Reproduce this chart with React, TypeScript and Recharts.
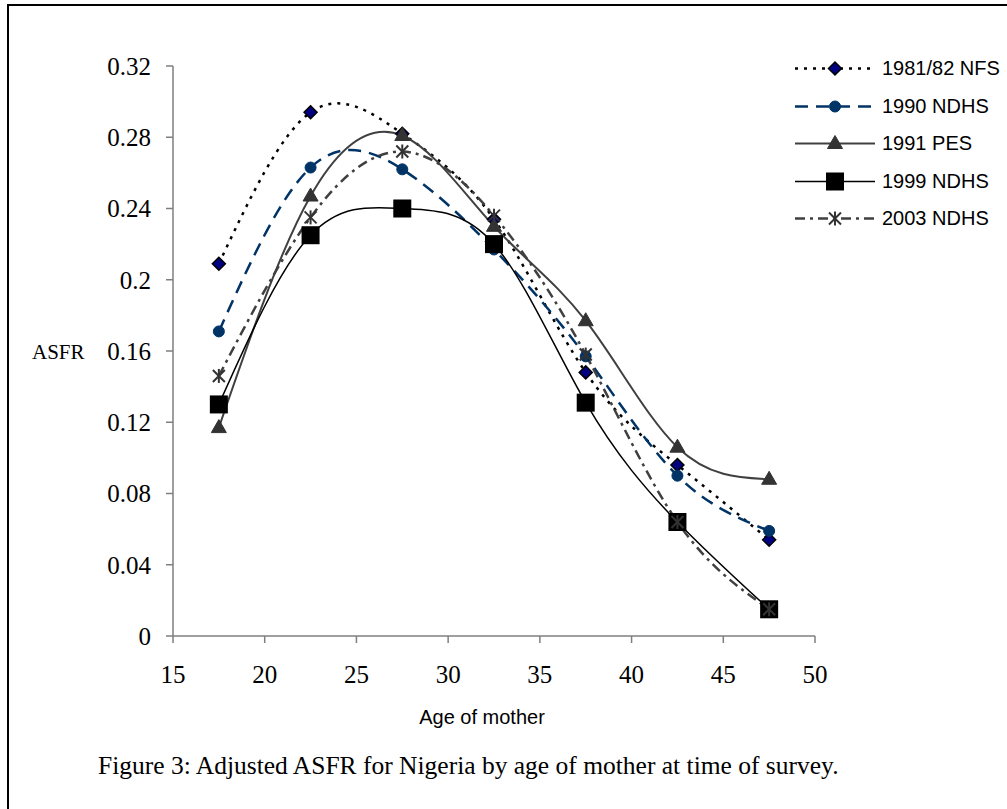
import { Legend, Line, LineChart, XAxis, YAxis } from "recharts"

const ages = [17.5, 22.5, 27.5, 32.5, 37.5, 42.5, 47.5]
const nfs1981 = [0.209, 0.294, 0.282, 0.234, 0.148, 0.096, 0.054]
const ndhs1990 = [0.171, 0.263, 0.262, 0.217, 0.157, 0.09, 0.059]
const pes1991 = [0.117, 0.247, 0.281, 0.23, 0.177, 0.106, 0.088]
const ndhs1999 = [0.13, 0.225, 0.24, 0.22, 0.131, 0.064, 0.015]
const ndhs2003 = [0.146, 0.235, 0.272, 0.236, 0.158, 0.064, 0.015]

const xTicks = [15, 20, 25, 30, 35, 40, 45, 50]
const yTicks = [0, 0.04, 0.08, 0.12, 0.16, 0.2, 0.24, 0.28, 0.32]

const data = ages.map((age, i) => ({
  age,
  nfs: nfs1981[i],
  n90: ndhs1990[i],
  pes: pes1991[i],
  n99: ndhs1999[i],
  n03: ndhs2003[i],
}))

type Mk = "diamond" | "circle" | "triangle" | "square" | "star"

const drawMarker = (kind: Mk, cx: number, cy: number, key?: any) => {
  switch (kind) {
    case "diamond":
      return (
        <polygon key={key} points={`${cx},${cy - 6.5} ${cx + 6.5},${cy} ${cx},${cy + 6.5} ${cx - 6.5},${cy}`}
          fill="#000080" stroke="#000" strokeWidth={1.5} />
      )
    case "circle":
      return <circle key={key} cx={cx} cy={cy} r={5.5} fill="#003366" stroke="#003366" />
    case "triangle":
      return (
        <polygon key={key} points={`${cx},${cy - 8} ${cx + 7.5},${cy + 5} ${cx - 7.5},${cy + 5}`}
          fill="#333333" stroke="#333333" />
      )
    case "square":
      return <rect key={key} x={cx - 9} y={cy - 9} width={18} height={18} fill="#000" />
    default:
      return (
        <g key={key} stroke="#333333" strokeWidth={2}>
          <line x1={cx} y1={cy - 7} x2={cx} y2={cy + 7} />
          <line x1={cx - 6} y1={cy - 6} x2={cx + 6} y2={cy + 6} />
          <line x1={cx - 6} y1={cy + 6} x2={cx + 6} y2={cy - 6} />
        </g>
      )
  }
}

const series = [
  { key: "nfs", name: "1981/82 NFS", color: "#000", width: 2.5, dash: "3 6", marker: "diamond" as Mk },
  { key: "n90", name: "1990 NDHS", color: "#003366", width: 2.5, dash: "13 8", marker: "circle" as Mk },
  { key: "pes", name: "1991 PES", color: "#404040", width: 2, dash: undefined, marker: "triangle" as Mk },
  { key: "n99", name: "1999 NDHS", color: "#000", width: 1.5, dash: undefined, marker: "square" as Mk },
  { key: "n03", name: "2003 NDHS", color: "#404040", width: 2.5, dash: "10 5 3 5", marker: "star" as Mk },
]

const LegendBox = () => (
  <div style={{ fontFamily: "'Liberation Sans', Arial, sans-serif", fontSize: 20, color: "#000" }}>
    {series.map((s) => (
      <div key={s.key} style={{ display: "flex", alignItems: "center", height: 37.5 }}>
        <svg width={80} height={37} style={{ overflow: "visible" }}>
          <line x1={0} y1={18.5} x2={80} y2={18.5} stroke={s.color} strokeWidth={s.width} strokeDasharray={s.dash} />
          {drawMarker(s.marker, 40, 18.5)}
        </svg>
        <span style={{ marginLeft: 7, whiteSpace: "nowrap" }}>{s.name}</span>
      </div>
    ))}
  </div>
)

export default function App() {
  return (
    <div style={{ position: "absolute", left: 0, top: 0, width: 1007, height: 809, overflow: "hidden", background: "#fff" }}>
      <div style={{ position: "absolute", left: 7, top: 4, width: 1100, height: 900, border: "2px solid #000" }} />
      <div style={{ position: "absolute", left: 0, top: 0 }}>
        <LineChart width={1007} height={809} data={data} margin={{ top: 66, right: 192, bottom: 113, left: 90 }}>
          <XAxis
            dataKey="age"
            type="number"
            domain={[15, 50]}
            ticks={xTicks}
            stroke="#7f7f7f"
            strokeWidth={1.5}
            height={60}
            tickSize={7}
            tickMargin={22}
            tick={{ fill: "#000", fontFamily: "'Liberation Serif', 'Times New Roman', serif", fontSize: 25 }}
            label={{
              content: ({ viewBox }: any) => (
                <text x={viewBox.x + viewBox.width / 2 - 12} y={viewBox.y + 88} textAnchor="middle"
                  fontFamily="'Liberation Sans', Arial, sans-serif" fontSize={20} fill="#000">
                  Age of mother
                </text>
              ),
            }}
          />
          <YAxis
            type="number"
            domain={[0, 0.32]}
            ticks={yTicks}
            stroke="#7f7f7f"
            strokeWidth={1.5}
            width={83}
            tickSize={7}
            tickMargin={15}
            tickFormatter={(v) => `${v}`}
            tick={{ fill: "#000", fontFamily: "'Liberation Serif', 'Times New Roman', serif", fontSize: 25 }}
            label={{
              content: ({ viewBox }: any) => (
                <text x={viewBox.x - 58} y={viewBox.y + viewBox.height / 2 + 8}
                  fontFamily="'Liberation Serif', 'Times New Roman', serif" fontSize={21} fill="#000">
                  ASFR
                </text>
              ),
            }}
          />
          <Legend
            layout="vertical"
            align="center"
            verticalAlign="middle"
            content={() => <LegendBox />}
            wrapperStyle={{ left: 795, top: 50, width: 212, height: 190 }}
          />
          {series.map((s) => (
            <Line
              key={s.key}
              dataKey={s.key}
              name={s.name}
              type="natural"
              stroke={s.color}
              strokeWidth={s.width}
              strokeDasharray={s.dash}
              isAnimationActive={false}
              dot={(p: any) => drawMarker(s.marker, p.cx, p.cy, `${s.key}-${p.index}`)}
              activeDot={false}
            />
          ))}
        </LineChart>
      </div>
      <div style={{ position: "absolute", left: 98, top: 751, fontFamily: "'Liberation Serif', 'Times New Roman', serif", fontSize: 25.5, lineHeight: "30px", whiteSpace: "nowrap" }}>
        Figure 3: Adjusted ASFR for Nigeria by age of mother at time of survey.
      </div>
    </div>
  )
}
